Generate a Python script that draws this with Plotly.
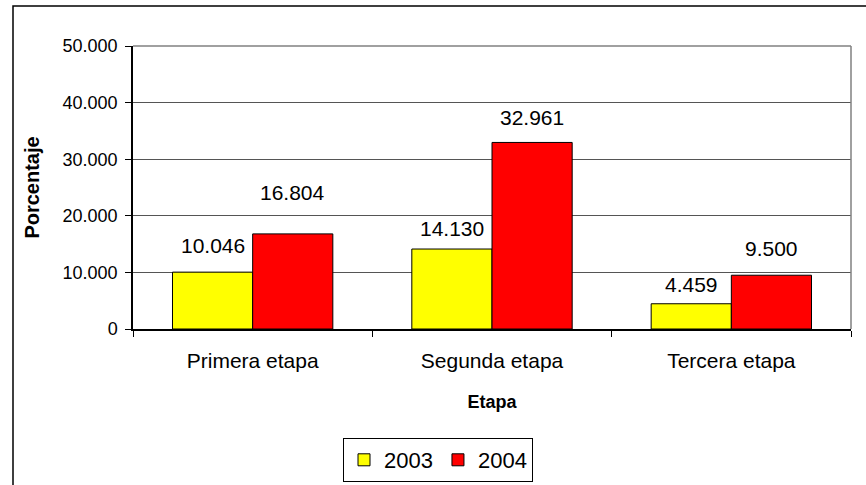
import plotly.graph_objects as go

categories = ["Primera etapa", "Segunda etapa", "Tercera etapa"]
values_2003 = [10046, 14130, 4459]
values_2004 = [16804, 32961, 9500]
y_ticks = [0, 10000, 20000, 30000, 40000, 50000]

# label placement (style): pixels between bar top and label centre
lift_2003 = [27, 21, 19]
lift_2004 = [41, 25, 27]

W, H = 866, 485
L, R, T, B = 133, 15, 46, 156
pw, ph = W - L - R, H - T - B
BARGAP = 0.33
half_bar = pw / len(categories) * (1 - BARGAP) / 4

font_family = "Liberation Sans, Arial, sans-serif"

fig = go.Figure()
fig.add_trace(go.Bar(name="2003", x=categories, y=values_2003,
                     marker=dict(color="#FFFF00", line=dict(color="black", width=1))))
fig.add_trace(go.Bar(name="2004", x=categories, y=values_2004,
                     marker=dict(color="#FF0000", line=dict(color="black", width=1))))

annotations = []
for vals, lifts, xs in ((values_2003, lift_2003, -half_bar), (values_2004, lift_2004, half_bar)):
    for c, v, lf in zip(categories, vals, lifts):
        annotations.append(dict(x=c, y=v, xref="x", yref="y",
                                text=f"{v:,}".replace(",", "."),
                                showarrow=False, xshift=xs, yshift=lf,
                                yanchor="middle", xanchor="center",
                                font=dict(size=21, color="black")))

fig.update_layout(
    width=W, height=H,
    margin=dict(l=L, r=R, t=T, b=B, autoexpand=False),
    paper_bgcolor="white", plot_bgcolor="white",
    separators=",.",
    font=dict(family=font_family, color="black"),
    barmode="group", bargap=BARGAP, bargroupgap=0,
    showlegend=True,
    legend=dict(orientation="h", x=(438 - L) / pw, xanchor="center",
                y=(T + ph - 460) / ph, yanchor="middle",
                bordercolor="black", borderwidth=1, font=dict(size=22),
                itemwidth=30, tracegroupgap=0),
    annotations=annotations,
)
fig.update_xaxes(showline=True, linecolor="black", linewidth=1.5,
                 ticks="outside", tickson="boundaries", ticklen=6, tickcolor="black",
                 tickfont=dict(size=21), ticklabelstandoff=12,
                 title=dict(text="<b>Etapa</b>", font=dict(size=18), standoff=24))
fig.update_yaxes(range=[0, 50000], tickvals=y_ticks, tickformat=",.0f",
                 showline=True, linecolor="black", linewidth=1.5,
                 ticks="outside", ticklen=6, tickcolor="black",
                 showgrid=True, gridcolor="#555555", gridwidth=1,
                 tickfont=dict(size=18), zeroline=False, ticklabelstandoff=4,
                 title=dict(text="<b>Porcentaje</b>", font=dict(size=20), standoff=18))

# plot-area border (top & right, gray)
fig.add_shape(type="line", xref="paper", yref="paper", x0=0, x1=1, y0=1, y1=1,
              line=dict(color="#808080", width=1.5))
fig.add_shape(type="line", xref="paper", yref="paper", x0=1, x1=1, y0=0, y1=1,
              line=dict(color="#808080", width=1.5))
# outer chart frame
fig.add_shape(type="rect", xref="paper", yref="paper",
              x0=(13 - L) / pw, x1=(W + 20 - L) / pw,
              y0=-(B + 20) / ph, y1=1 + (T - 6) / ph,
              line=dict(color="black", width=1.5))

fig.write_html("out.html", config={"displayModeBar": False},
               post_script="document.body.style.margin='0px';")
